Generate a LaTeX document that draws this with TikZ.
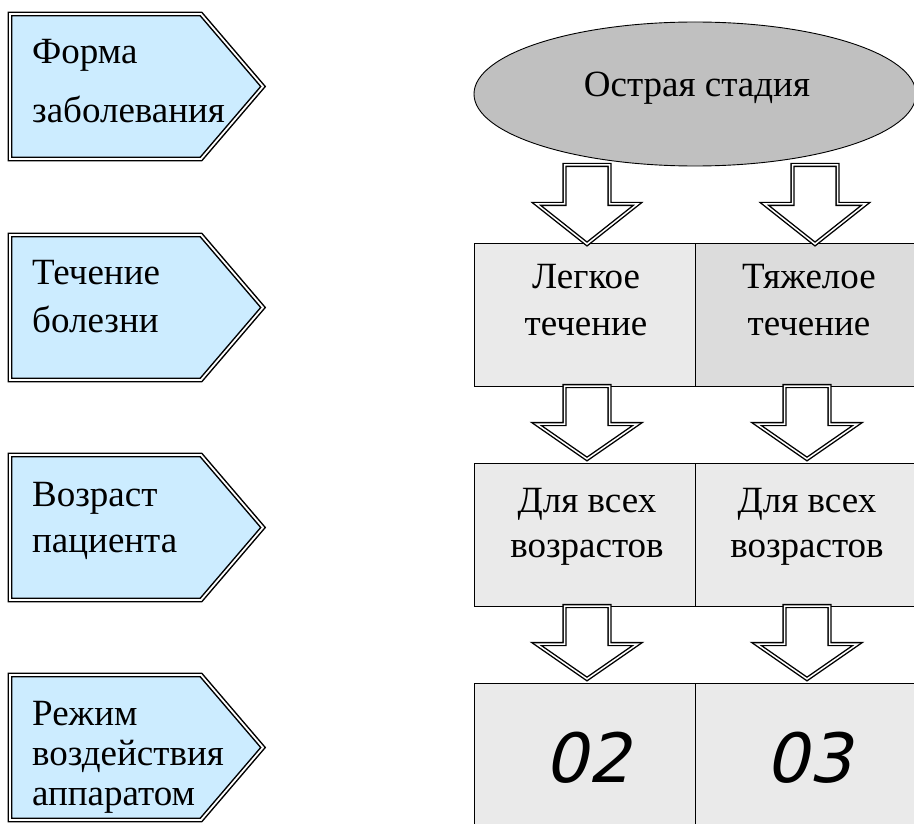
\documentclass[tikz,border=0pt]{standalone}
\usepackage{fontspec}
\setmainfont{Liberation Serif}
\newfontfamily\digitfont{DejaVu Sans}[FakeSlant=0.22]
\usetikzlibrary{shapes.geometric}
\definecolor{pentblue}{HTML}{CCECFF}
\definecolor{ovalgray}{HTML}{C0C0C0}
\definecolor{boxlight}{HTML}{EAEAEA}
\definecolor{boxdark}{HTML}{DCDCDC}
\newcommand\pentpath[1]{%
  \draw[pent] (10,{#1+3}) -- (201,{#1+3}) -- (263,{#1+75.5}) -- (201,{#1+148}) -- (10,{#1+148}) -- cycle;}
\newcommand\blockarrowpath[4]{%
  \draw[blockarr] ({#1-22.5},{#2+2}) -- ({#1-22.5},{#3+2}) -- ({#1-50.5},{#3+2}) -- ({#1},{#4-3}) -- ({#1+50.5},{#3+2}) -- ({#1+22.5},{#3+2}) -- ({#1+22.5},{#2+2}) -- cycle;}
\begin{document}
\begin{tikzpicture}[x=1pt,y=-1pt,
  pent/.style={draw=black,line width=1.5pt,double=white,double distance=1.8pt,fill=pentblue,line join=miter},
  blockarr/.style={draw=black,line width=1.4pt,double=white,double distance=1.5pt,fill=white,line join=miter},
  cell/.style={draw=black,line width=1.2pt,rectangle,inner sep=0,anchor=north west},
  sidetext/.style={inner sep=0,anchor=base west,align=left},
  celltext/.style={inner sep=0,anchor=base,align=center},
  numtext/.style={inner sep=0,anchor=base,font=\digitfont\fontsize{68}{68}\selectfont}]
\useasboundingbox (0,0) rectangle (914,824);
\clip (0,0) rectangle (914,824);
\fill[white] (0,0) rectangle (914,824);

% left pentagons
\pentpath{11}
\pentpath{232}
\pentpath{452}
\pentpath{672}
\node[sidetext,font=\fontsize{37}{59}\selectfont] (form) at (32,123) {Форма\\заболевания};
\node[sidetext,font=\fontsize{37}{48}\selectfont] (course) at (32,332) {Течение\\болезни};
\node[sidetext,font=\fontsize{37}{46}\selectfont] (age) at (32,552) {Возраст\\пациента};
\node[sidetext,font=\fontsize{37}{40}\selectfont] (mode) at (32,805) {Режим\\воздействия\\аппаратом};

% ellipse
\node[ellipse,draw=black,line width=0.9pt,fill=ovalgray,minimum width=442,minimum height=144,inner sep=0] (acute) at (695,94) {};
\node[inner sep=0,anchor=base,font=\fontsize{37}{40}\selectfont] (acutetext) at (697,97) {Острая стадия};

% cells
\node[cell,fill=boxlight,minimum width=221,minimum height=143] (light) at (474,243) {};
\node[cell,fill=boxdark,minimum width=226,minimum height=143] (heavy) at (695,243) {};
\node[cell,fill=boxlight,minimum width=221,minimum height=143] (ageL) at (474,463) {};
\node[cell,fill=boxlight,minimum width=226,minimum height=143] (ageR) at (695,463) {};
\node[cell,fill=boxlight,minimum width=221,minimum height=160] (modeL) at (474,683) {};
\node[cell,fill=boxlight,minimum width=226,minimum height=160] (modeR) at (695,683) {};

\node[celltext,font=\fontsize{37}{47}\selectfont] (lighttext) at (586,335) {Легкое\\течение};
\node[celltext,font=\fontsize{37}{47}\selectfont] (heavytext) at (809,335) {Тяжелое\\течение};
\node[celltext,font=\fontsize{37}{45}\selectfont] (ageLtext) at (587,557) {Для всех\\возрастов};
\node[celltext,font=\fontsize{37}{45}\selectfont] (ageRtext) at (807,557) {Для всех\\возрастов};
\node[numtext] (codeL) at (588,782) {02};
\node[numtext] (codeR) at (809,782) {03};

% block arrows
\blockarrowpath{587}{163}{202}{247}
\blockarrowpath{815}{163}{202}{247}
\blockarrowpath{587}{384}{422}{462}
\blockarrowpath{807}{384}{422}{462}
\blockarrowpath{587}{604}{642}{682}
\blockarrowpath{807}{604}{642}{682}
\end{tikzpicture}
\end{document}
